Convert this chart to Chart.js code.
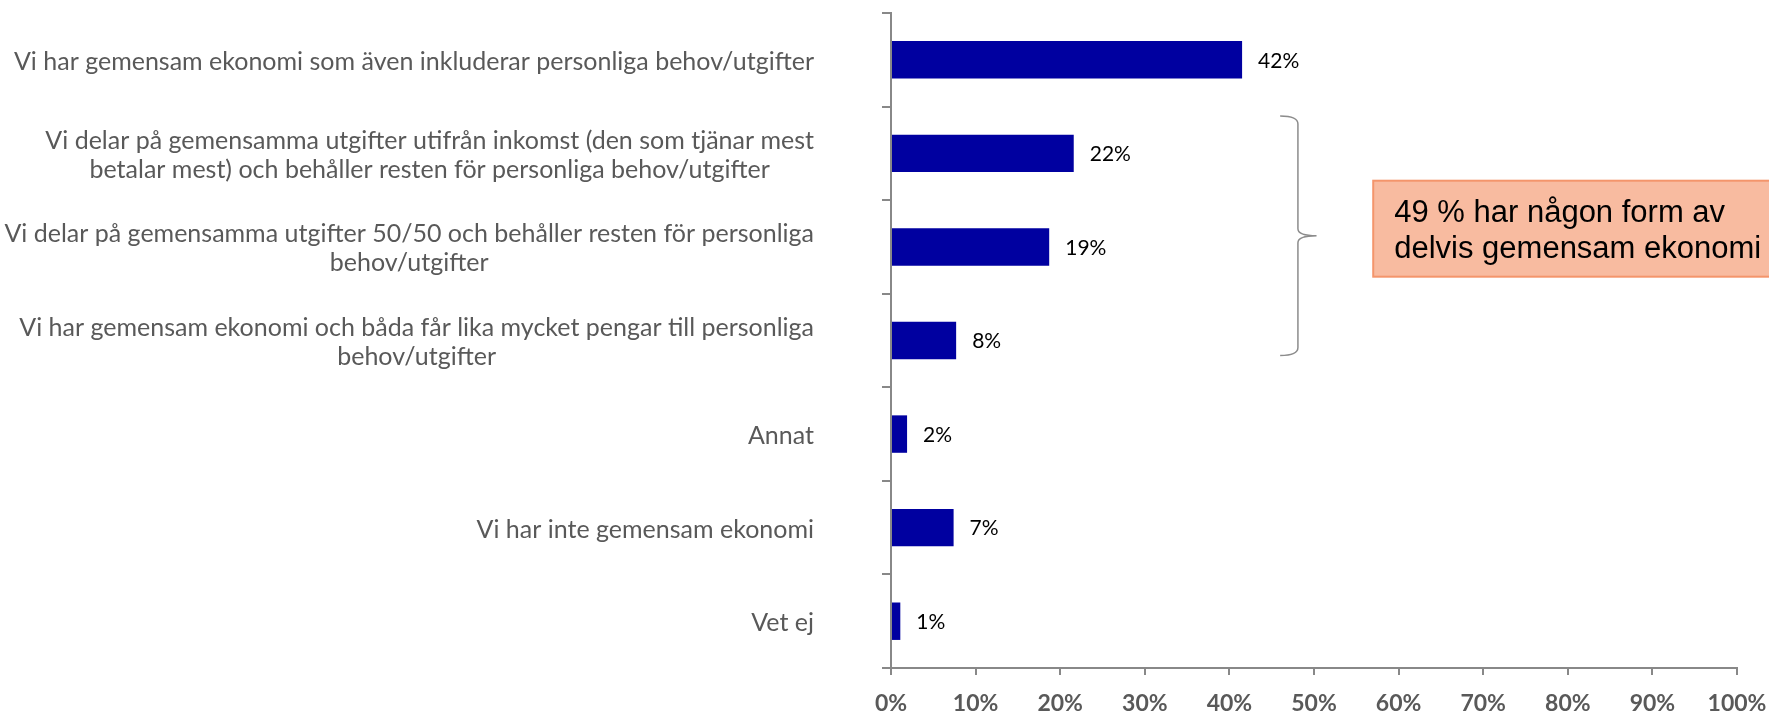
<!DOCTYPE html>
<html>
<head>
<meta charset="utf-8">
<script src="https://cdn.jsdelivr.net/npm/chart.js@4/dist/chart.umd.min.js"></script>
<style>
html,body{margin:0;padding:0;background:#fff;overflow:hidden}
canvas{display:block}
</style>
</head>
<body>
<canvas id="c" width="1769" height="715"></canvas>
<script>
// ---- data ----
const categories = [
  "Vi har gemensam ekonomi som även inkluderar personliga behov/utgifter",
  ["Vi delar på gemensamma utgifter utifrån inkomst (den som tjänar mest", "betalar mest) och behåller resten för personliga behov/utgifter"],
  ["Vi delar på gemensamma utgifter 50/50 och behåller resten för personliga", "behov/utgifter"],
  ["Vi har gemensam ekonomi och båda får lika mycket pengar till personliga", "behov/utgifter"],
  "Annat",
  "Vi har inte gemensam ekonomi",
  "Vet ej"
];
const shares = [41.5, 21.6, 18.7, 7.7, 1.9, 7.4, 1.1];
const valueLabels = ["42%", "22%", "19%", "8%", "2%", "7%", "1%"];
const xTickValues = [0, 10, 20, 30, 40, 50, 60, 70, 80, 90, 100];
const noteLines = ["49 % har någon form av", "delvis gemensam ekonomi"];
const bracedFrom = 1, bracedTo = 3;

// ---- styling ----
const GRAY_TEXT = '#595959';
const AXIS = '#888888';
const LABEL_FONT = '25px Lato';
const LABEL_LINE = 29;

const overlay = {
  id: 'overlay',
  afterDraw(chart) {
    const ctx = chart.ctx;
    const x = chart.scales.x, y = chart.scales.y;
    const area = chart.chartArea;
    ctx.save();
    // category labels: block right-aligned, lines centred within block
    ctx.font = LABEL_FONT;
    ctx.fillStyle = GRAY_TEXT;
    ctx.textBaseline = 'middle';
    ctx.textAlign = 'center';
    const rightEdge = area.left - 77;
    chart.data.labels.forEach((lab, i) => {
      const lines = Array.isArray(lab) ? lab : [lab];
      const w = Math.max(...lines.map(l => ctx.measureText(l).width));
      const cx = rightEdge - w / 2;
      const cy = y.getPixelForTick(i) + 2;
      lines.forEach((l, k) => {
        ctx.fillText(l, cx, cy + (k - (lines.length - 1) / 2) * LABEL_LINE);
      });
    });
    // value labels
    ctx.font = '21px Lato';
    ctx.fillStyle = '#000';
    ctx.textAlign = 'left';
    const meta = chart.getDatasetMeta(0);
    meta.data.forEach((bar, i) => {
      ctx.fillText(valueLabels[i], bar.x + 16, bar.y + 1);
    });
    // brace
    const bx0 = x.getPixelForValue(46), bx1 = x.getPixelForValue(48.1), bx2 = x.getPixelForValue(50.3);
    const top = y.getPixelForValue(bracedFrom - 0.4);
    const bot = y.getPixelForValue(bracedTo + 0.16);
    const mid = (top + bot) / 2;
    ctx.strokeStyle = '#8c8c8c';
    ctx.lineWidth = 1.5;
    ctx.beginPath();
    ctx.moveTo(bx0, top);
    ctx.quadraticCurveTo(bx1, top, bx1, top + 8);
    ctx.lineTo(bx1, mid - 7);
    ctx.quadraticCurveTo(bx1, mid, bx2, mid);
    ctx.quadraticCurveTo(bx1, mid, bx1, mid + 7);
    ctx.lineTo(bx1, bot - 8);
    ctx.quadraticCurveTo(bx1, bot, bx0, bot);
    ctx.stroke();
    // note box
    const boxL = x.getPixelForValue(57);
    const boxT = mid - 55, boxB = mid + 41;
    ctx.fillStyle = '#F8BBA0';
    ctx.fillRect(boxL, boxT, chart.width - boxL + 20, boxB - boxT);
    ctx.strokeStyle = '#F4956B';
    ctx.lineWidth = 2;
    ctx.strokeRect(boxL, boxT, chart.width - boxL + 20, boxB - boxT);
    ctx.fillStyle = '#000';
    ctx.font = '31px "Liberation Sans", Arial, sans-serif';
    ctx.textBaseline = 'alphabetic';
    ctx.fillText(noteLines[0], boxL + 21, boxT + 41);
    ctx.fillText(noteLines[1], boxL + 21, boxT + 77);
    ctx.restore();
  }
};

Chart.defaults.font.family = 'Lato';

new Chart(document.getElementById('c'), {
  type: 'bar',
  data: {
    labels: categories,
    datasets: [{
      data: shares,
      backgroundColor: '#0000A0',
      borderWidth: 0,
      barPercentage: 0.4,
      categoryPercentage: 1
    }]
  },
  options: {
    indexAxis: 'y',
    responsive: false,
    animation: false,
    events: [],
    layout: { padding: { left: 0, right: 32, top: 13, bottom: 0 } },
    plugins: { legend: { display: false }, tooltip: { enabled: false } },
    scales: {
      x: {
        type: 'linear',
        min: 0, max: 100,
        afterBuildTicks: s => { s.ticks = xTickValues.map(v => ({ value: v })); },
        afterFit: s => { s.height = 47; s.paddingLeft = 0; s.paddingRight = 0; },
        grid: { drawOnChartArea: false, drawTicks: true, tickLength: 7, color: AXIS, lineWidth: 2 },
        border: { display: true, color: AXIS, width: 2 },
        ticks: {
          callback: v => v + '%',
          color: GRAY_TEXT,
          font: { size: 23, weight: 'bold', family: 'Lato' },
          padding: 15,
          maxRotation: 0
        }
      },
      y: {
        type: 'category',
        afterFit: s => { s.width = 891; },
        grid: { offset: true, drawOnChartArea: false, drawTicks: true, tickLength: 9, color: AXIS, lineWidth: 2 },
        border: { display: true, color: AXIS, width: 2 },
        ticks: { display: false }
      }
    }
  },
  plugins: [overlay]
});
</script>
</body>
</html>
